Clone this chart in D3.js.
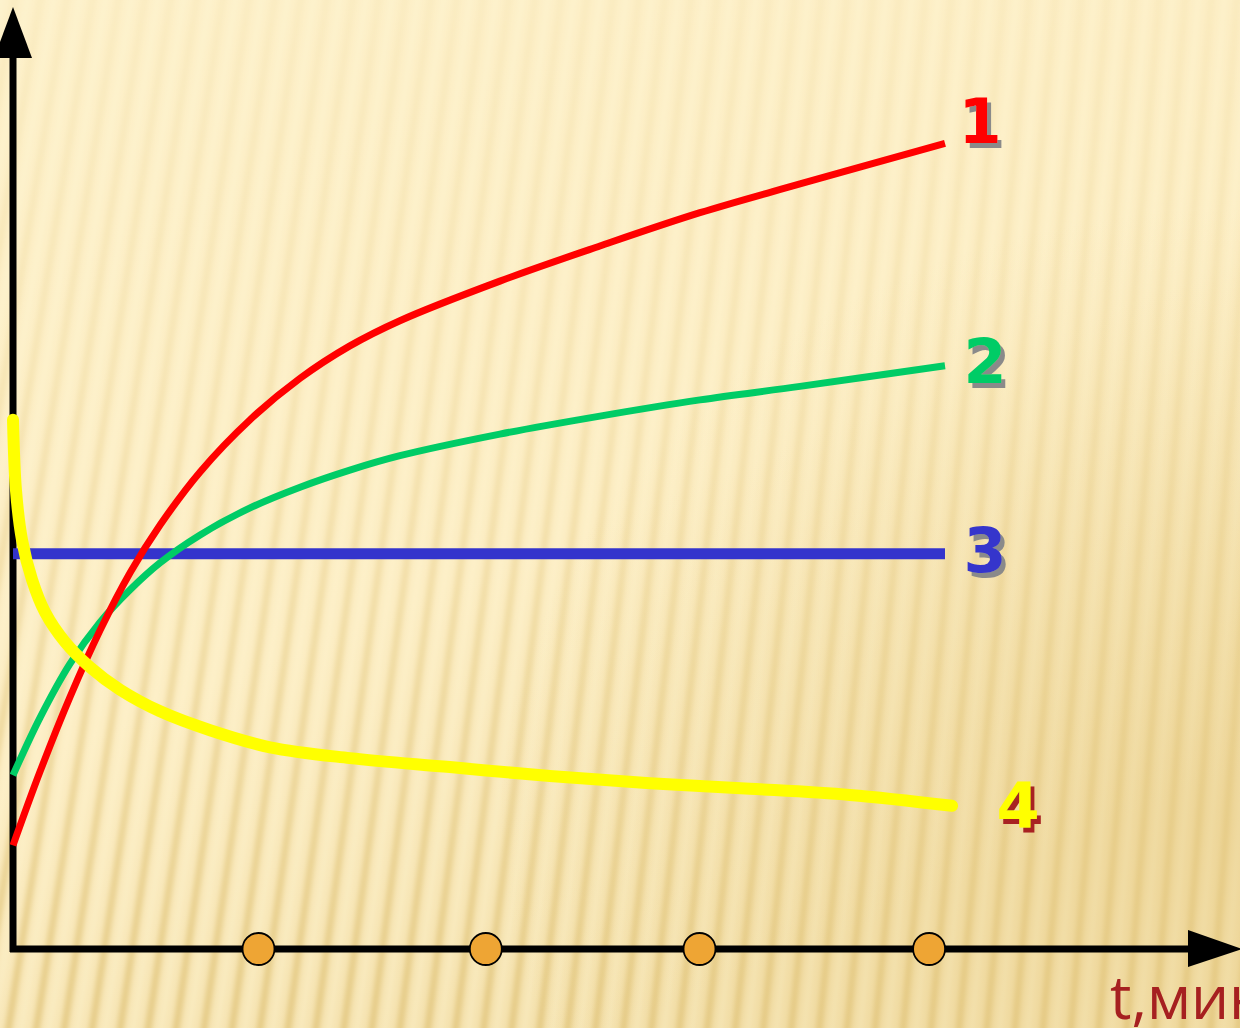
<!DOCTYPE html>
<html>
<head>
<meta charset="utf-8">
<script src="https://cdn.jsdelivr.net/npm/d3@7"></script>
<style>
  html, body { margin: 0; padding: 0; overflow: hidden; background: #fcefc8; }
  svg { display: block; }
</style>
</head>
<body>
<svg id="chart" width="1240" height="1028"></svg>
<script>
// time, minutes
const t1 = [0, 0.119, 0.251, 0.383, 0.515, 0.647, 0.823, 1.043, 1.263, 1.482, 1.702, 2.142, 2.582, 3.022, 3.462, 4.1];
const v1 = [11.4, 19.6, 27.9, 35.3, 41.7, 47.0, 52.9, 58.7, 63.3, 66.9, 69.7, 74.1, 78.0, 81.7, 84.9, 89.4];

const t2 = [0, 0.119, 0.251, 0.383, 0.515, 0.647, 0.823, 1.043, 1.263, 1.482, 1.702, 2.142, 2.582, 3.022, 3.462, 4.1];
const v2 = [19.2, 25.6, 31.6, 36.2, 39.8, 42.8, 45.9, 48.9, 51.2, 53.1, 54.7, 57.1, 59.1, 60.9, 62.4, 64.7];

const t3 = [0, 4.1];
const v3 = [43.8, 43.8];

const t4 = [0, 0.013, 0.04, 0.084, 0.141, 0.229, 0.339, 0.471, 0.647, 0.867, 1.131, 1.482, 1.922, 2.362, 2.802, 3.242, 3.682, 4.131];
const v4 = [58.7, 50.9, 45.3, 40.9, 37.3, 34.0, 31.2, 28.7, 26.3, 24.2, 22.3, 21.1, 20.1, 19.1, 18.3, 17.7, 17.0, 15.8];

const seriesNames = ['1', '2', '3', '4'];
const tickTimes = [1.08, 2.08, 3.02, 4.03];
const axisLabel = 't,мин';

const width = 1240;
const height = 1028;
const x0 = 13;
const y0 = 949;

const x = d3.scaleLinear().domain([0, 4.1]).range([x0, 945]);
const y = d3.scaleLinear().domain([0, 100]).range([948, 48]);

const svg = d3.select('#chart');
const defs = svg.append('defs');

// background: cream paper with soft slanted ribs, darker toward lower right
const bg = defs.append('linearGradient').attr('id', 'bg')
  .attr('x1', 0).attr('y1', 0).attr('x2', 0.5).attr('y2', 1);
bg.append('stop').attr('offset', 0).attr('stop-color', '#fdf0c9');
bg.append('stop').attr('offset', 0.6).attr('stop-color', '#fcedc3');
bg.append('stop').attr('offset', 1).attr('stop-color', '#f4e1ad');

const shade = defs.append('radialGradient').attr('id', 'shade')
  .attr('cx', 1).attr('cy', 0.8).attr('r', 0.6);
shade.append('stop').attr('offset', 0).attr('stop-color', '#e4c67c').attr('stop-opacity', 0.4);
shade.append('stop').attr('offset', 1).attr('stop-color', '#e4c67c').attr('stop-opacity', 0);

const rib = defs.append('linearGradient').attr('id', 'rib')
  .attr('gradientUnits', 'userSpaceOnUse')
  .attr('x1', 0).attr('y1', 0).attr('x2', 0).attr('y2', height);
rib.append('stop').attr('offset', 0).attr('stop-color', '#e8cf8c').attr('stop-opacity', 0.12);
rib.append('stop').attr('offset', 0.35).attr('stop-color', '#e8cf8c').attr('stop-opacity', 0.3);
rib.append('stop').attr('offset', 0.7).attr('stop-color', '#e3c880').attr('stop-opacity', 0.55);
rib.append('stop').attr('offset', 1).attr('stop-color', '#dfc277').attr('stop-opacity', 0.75);

defs.append('filter').attr('id', 'soft')
  .append('feGaussianBlur').attr('stdDeviation', 2.5);

/**
 * Drop shadow for the series numbers.
 * @param {string} id Filter id.
 * @param {string} color Shadow colour.
 */
function shadowFilter(id, color) {
  const f = defs.append('filter').attr('id', id)
    .attr('x', '-20%').attr('y', '-20%').attr('width', '150%').attr('height', '150%');
  f.append('feOffset').attr('in', 'SourceAlpha').attr('dx', 4).attr('dy', 5).attr('result', 'off');
  f.append('feFlood').attr('flood-color', color).attr('result', 'col');
  f.append('feComposite').attr('in', 'col').attr('in2', 'off').attr('operator', 'in').attr('result', 'sh');
  const m = f.append('feMerge');
  m.append('feMergeNode').attr('in', 'sh');
  m.append('feMergeNode').attr('in', 'SourceGraphic');
}
shadowFilter('shadowGray', '#8a8a8a');
shadowFilter('shadowRed', '#a82424');

svg.append('rect').attr('width', width).attr('height', height).attr('fill', 'url(#bg)');

const ribs = svg.append('g').attr('filter', 'url(#soft)');
d3.range(-140, 1380, 26).forEach(function(xt) {
  const tilt = 0.17 - 0.09 * Math.max(0, xt) / width;
  ribs.append('line')
    .attr('x1', xt).attr('y1', -10)
    .attr('x2', xt - tilt * (height + 20)).attr('y2', height + 10)
    .attr('stroke', 'url(#rib)')
    .attr('stroke-width', 7);
  ribs.append('line')
    .attr('x1', xt + 13).attr('y1', -10)
    .attr('x2', xt + 13 - tilt * (height + 20)).attr('y2', height + 10)
    .attr('stroke', '#fff8dc')
    .attr('stroke-opacity', 0.3)
    .attr('stroke-width', 5);
});

svg.append('rect').attr('width', width).attr('height', height).attr('fill', 'url(#shade)');

// axes
const axes = svg.append('g');
axes.append('line')
  .attr('x1', x0).attr('y1', y0 + 3)
  .attr('x2', x0).attr('y2', 56)
  .attr('stroke', '#000').attr('stroke-width', 7);
axes.append('path')
  .attr('d', d3.line()([[x0, 7], [x0 - 19, 58], [x0 + 19, 58]]) + 'Z')
  .attr('fill', '#000');
axes.append('line')
  .attr('x1', x0 - 3).attr('y1', y0)
  .attr('x2', 1192).attr('y2', y0)
  .attr('stroke', '#000').attr('stroke-width', 7);
axes.append('path')
  .attr('d', d3.line()([[1188, y0 - 19], [1188, y0 + 18], [1242, y0]]) + 'Z')
  .attr('fill', '#000');

axes.selectAll('circle')
  .data(tickTimes)
  .join('circle')
  .attr('cx', d => x(d))
  .attr('cy', y0)
  .attr('r', 16)
  .attr('fill', '#eea534')
  .attr('stroke', '#000')
  .attr('stroke-width', 1.8);

axes.append('text')
  .attr('x', 1110)
  .attr('y', 1019)
  .attr('font-family', '"Open Sans", sans-serif')
  .attr('font-size', 60)
  .attr('fill', '#a62020')
  .text(axisLabel);

// curves, in drawing order
const series = [
  {name: seriesNames[2], t: t3, v: v3, color: '#3434cc', width: 11, cap: 'butt', dx: 40, dy: 18, shadow: 'shadowGray'},
  {name: seriesNames[1], t: t2, v: v2, color: '#00cc66', width: 7, cap: 'butt', dx: 40, dy: 17, shadow: 'shadowGray'},
  {name: seriesNames[0], t: t1, v: v1, color: '#ff0000', width: 7, cap: 'butt', dx: 35, dy: 0, shadow: 'shadowGray'},
  {name: seriesNames[3], t: t4, v: v4, color: '#ffff00', width: 12, cap: 'round', dx: 66, dy: 21, shadow: 'shadowRed'}
];

const line = d3.line()
  .x(d => x(d[0]))
  .y(d => y(d[1]))
  .curve(d3.curveCatmullRom.alpha(0.5));

const curves = svg.append('g');
series.forEach(function(s) {
  const pts = d3.zip(s.t, s.v);
  curves.append('path')
    .attr('d', line(pts))
    .attr('fill', 'none')
    .attr('stroke', s.color)
    .attr('stroke-width', s.width)
    .attr('stroke-linecap', s.cap);

  const last = pts[pts.length - 1];
  curves.append('text')
    .attr('x', x(last[0]) + s.dx)
    .attr('y', y(last[1]) + s.dy)
    .attr('font-family', '"DejaVu Sans", Verdana, sans-serif')
    .attr('font-weight', 'bold')
    .attr('font-size', 62)
    .attr('text-anchor', 'middle')
    .attr('fill', s.color)
    .attr('filter', 'url(#' + s.shadow + ')')
    .text(s.name);
});
</script>
</body>
</html>
